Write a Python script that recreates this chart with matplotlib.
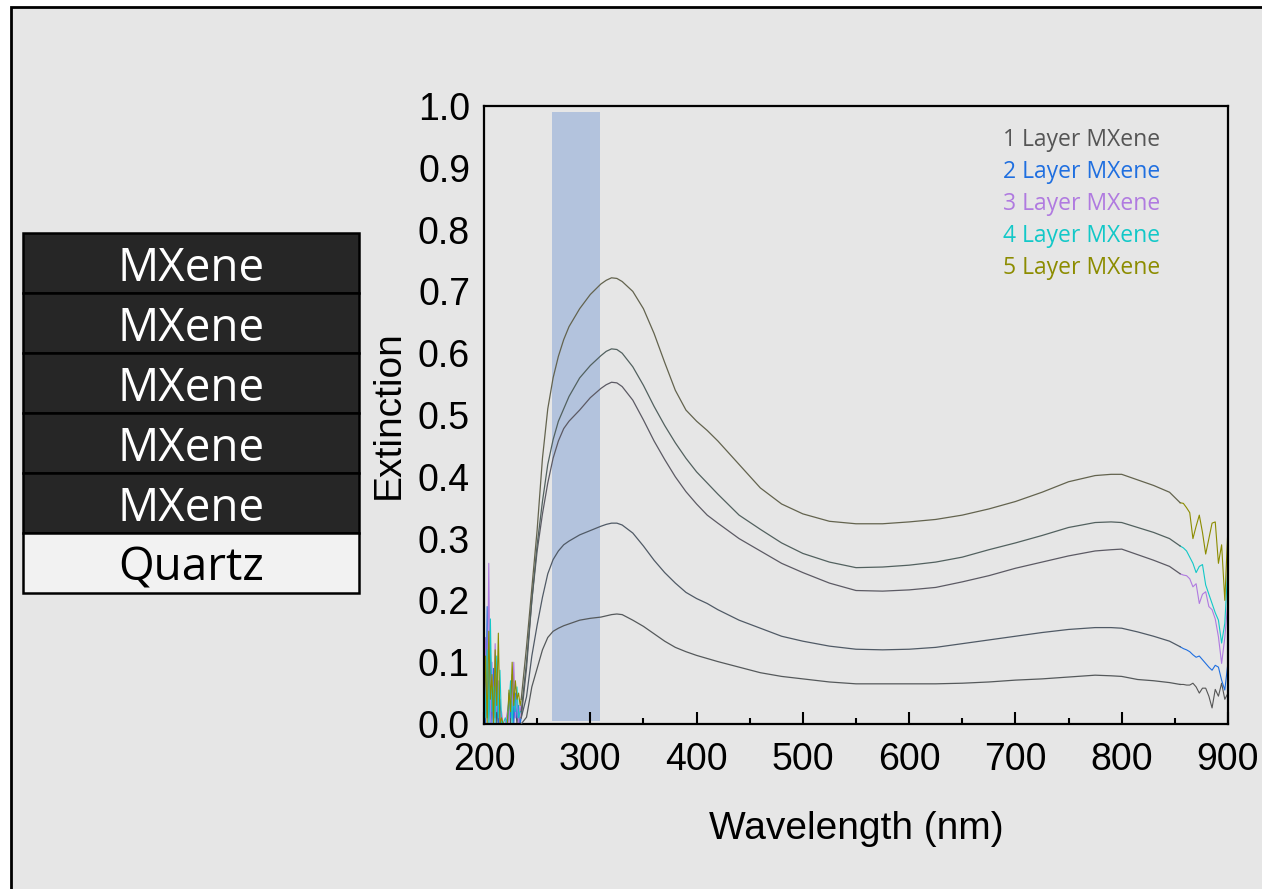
import matplotlib
matplotlib.use("Agg")
import matplotlib.pyplot as plt
from matplotlib.patches import Rectangle
import numpy as np

# ---- data ----
series_labels = ["1 Layer MXene", "2 Layer MXene", "3 Layer MXene",
                 "4 Layer MXene", "5 Layer MXene"]

# smooth part of the spectra (nm)
wl_main = [235, 240, 245, 250, 255, 260, 265, 270, 275, 280,
           290, 300, 310, 315, 320, 325, 330, 340, 350, 360,
           370, 380, 390, 400, 410, 420, 440, 460, 480, 500,
           525, 550, 575, 600, 625, 650, 675, 700, 725, 750,
           775, 790, 800, 815, 830, 845, 855]

ext_1 = [0.0, 0.011, 0.06, 0.09, 0.12, 0.14, 0.15, 0.155, 0.159, 0.162,
         0.168, 0.171, 0.173, 0.175, 0.177, 0.178, 0.177, 0.168, 0.158, 0.146,
         0.134, 0.124, 0.117, 0.111, 0.106, 0.101, 0.092, 0.083, 0.077, 0.073,
         0.068, 0.065, 0.065, 0.065, 0.065, 0.066, 0.068, 0.071, 0.073, 0.076,
         0.079, 0.078, 0.077, 0.072, 0.07, 0.067, 0.064]
ext_2 = [0.01, 0.044, 0.11, 0.16, 0.205, 0.243, 0.266, 0.28, 0.29, 0.296,
         0.306, 0.313, 0.32, 0.323, 0.325, 0.325, 0.322, 0.309, 0.288, 0.265,
         0.245, 0.228, 0.213, 0.203, 0.195, 0.185, 0.168, 0.155, 0.142, 0.134,
         0.126, 0.121, 0.12, 0.121, 0.124, 0.13, 0.136, 0.142, 0.148, 0.153,
         0.156, 0.156, 0.155, 0.149, 0.142, 0.134, 0.125]
ext_3 = [0.01, 0.09, 0.20, 0.28, 0.34, 0.39, 0.43, 0.458, 0.478, 0.49,
         0.508, 0.528, 0.543, 0.549, 0.553, 0.552, 0.546, 0.524, 0.492, 0.458,
         0.428, 0.40, 0.376, 0.356, 0.338, 0.325, 0.30, 0.28, 0.26, 0.245,
         0.228, 0.216, 0.215, 0.217, 0.221, 0.23, 0.24, 0.252, 0.262, 0.272,
         0.28, 0.282, 0.283, 0.274, 0.265, 0.255, 0.243]
ext_4 = [0.02, 0.10, 0.20, 0.29, 0.36, 0.42, 0.46, 0.49, 0.51, 0.53,
         0.56, 0.58, 0.596, 0.603, 0.607, 0.606, 0.60, 0.578, 0.548, 0.514,
         0.483, 0.455, 0.43, 0.408, 0.39, 0.372, 0.338, 0.315, 0.293, 0.276,
         0.262, 0.253, 0.254, 0.257, 0.262, 0.27, 0.282, 0.293, 0.305, 0.318,
         0.326, 0.327, 0.326, 0.318, 0.31, 0.30, 0.288]
ext_5 = [0.04, 0.125, 0.22, 0.314, 0.43, 0.51, 0.56, 0.595, 0.622, 0.643,
         0.672, 0.695, 0.712, 0.718, 0.722, 0.721, 0.716, 0.70, 0.672, 0.632,
         0.585, 0.54, 0.508, 0.49, 0.475, 0.458, 0.42, 0.382, 0.356, 0.34,
         0.328, 0.324, 0.324, 0.327, 0.331, 0.338, 0.348, 0.36, 0.375, 0.392,
         0.402, 0.404, 0.404, 0.395, 0.386, 0.375, 0.358]

# noisy start (detector edge)
wl_left = [200, 201.5, 203, 204.5, 206, 207.5, 209, 210.5, 212, 213.5, 215,
           216.5, 218, 220, 222, 223.5, 225, 226.5, 228, 229.5, 231, 232.5,
           234, 235]
left_1 = [0.02, 0.10, 0.01, 0.07, 0.0, 0.05, 0.02, 0.08, 0.0, 0.03, 0.01, 0.0,
          0.0, 0.0, 0.01, 0.04, 0.0, 0.06, 0.01, 0.03, 0.0, 0.02, 0.0, 0.0]
left_2 = [0.05, 0.0, 0.19, 0.02, 0.12, 0.0, 0.09, 0.01, 0.06, 0.0, 0.04, 0.0,
          0.0, 0.0, 0.0, 0.05, 0.01, 0.08, 0.0, 0.05, 0.01, 0.03, 0.0, 0.01]
left_3 = [0.0, 0.14, 0.03, 0.26, 0.0, 0.10, 0.01, 0.13, 0.02, 0.07, 0.0, 0.02,
          0.0, 0.0, 0.02, 0.0, 0.06, 0.02, 0.10, 0.01, 0.04, 0.0, 0.03, 0.01]
left_4 = [0.08, 0.01, 0.12, 0.0, 0.17, 0.02, 0.06, 0.0, 0.11, 0.01, 0.087, 0.0,
          0.0, 0.01, 0.0, 0.03, 0.07, 0.0, 0.05, 0.02, 0.06, 0.01, 0.02, 0.02]
left_5 = [0.03, 0.11, 0.0, 0.15, 0.04, 0.08, 0.0, 0.12, 0.03, 0.147, 0.0, 0.01,
          0.0, 0.0, 0.0, 0.055, 0.02, 0.10, 0.03, 0.07, 0.04, 0.05, 0.03, 0.04]

# noisy end
wl_right = [855, 858, 861, 864, 867, 870, 873, 876, 879, 882, 885, 888, 891,
            894, 897, 900]
right_1 = [0.064, 0.064, 0.063, 0.063, 0.066, 0.06, 0.05, 0.058, 0.058, 0.045,
           0.026, 0.056, 0.045, 0.066, 0.04, 0.05]
right_2 = [0.125, 0.122, 0.12, 0.117, 0.112, 0.108, 0.11, 0.104, 0.098, 0.092,
           0.087, 0.095, 0.092, 0.071, 0.055, 0.10]
right_3 = [0.243, 0.241, 0.24, 0.235, 0.222, 0.227, 0.195, 0.21, 0.214, 0.19,
           0.185, 0.17, 0.141, 0.098, 0.14, 0.20]
right_4 = [0.288, 0.285, 0.28, 0.27, 0.26, 0.245, 0.255, 0.258, 0.225, 0.21,
           0.195, 0.18, 0.168, 0.131, 0.163, 0.26]
right_5 = [0.358, 0.357, 0.35, 0.342, 0.30, 0.32, 0.338, 0.31, 0.275, 0.30,
           0.325, 0.327, 0.26, 0.29, 0.20, 0.32]

# highlighted band
band_lo, band_hi = 264, 309
band_bottom, band_top = 0.005, 0.99

layer_names = ["MXene", "MXene", "MXene", "MXene", "MXene", "Quartz"]

# ---- style ----
label_colors = ["#555555", "#1f6fe0", "#b07ae0", "#12c8c8", "#8c8c00"]
line_colors = ["#55595b", "#505a66", "#5c5a64", "#52615f", "#63634e"]

plt.rcParams["font.family"] = ["Liberation Sans", "DejaVu Sans"]

fig = plt.figure(figsize=(12.62, 8.89), dpi=100, facecolor="white")

# outer slide frame (behind everything)
fig.patches.append(Rectangle((11 / 1262, -0.1), 1.2, 1.1 - 7 / 889,
                             transform=fig.transFigure, facecolor="#e6e6e6",
                             edgecolor="black", linewidth=2, zorder=-5))

# layer stack sketch
row_h = 60 / 889
stack_top = 1 - 233 / 889
for i, name in enumerate(layer_names):
    y0 = stack_top - (i + 1) * row_h
    dark = name == "MXene"
    fig.patches.append(Rectangle((23 / 1262, y0), 336 / 1262, row_h,
                                 transform=fig.transFigure,
                                 facecolor="#262626" if dark else "#f2f2f2",
                                 edgecolor="black", linewidth=1.8, zorder=1))
    fig.text(191 / 1262, y0 + row_h / 2 - 6 / 889, name, ha="center",
             va="center", fontsize=33, family="Open Sans",
             color="white" if dark else "black", zorder=2)

ax = fig.add_axes([484 / 1262, 165 / 889, 744 / 1262, 618 / 889])
ax.set_zorder(3)
ax.set_facecolor("#e6e6e6")

ax.axvspan(band_lo, band_hi, ymin=band_bottom, ymax=band_top,
           color="#b3c3dd", lw=0, zorder=1)

mains = [ext_1, ext_2, ext_3, ext_4, ext_5]
lefts = [left_1, left_2, left_3, left_4, left_5]
rights = [right_1, right_2, right_3, right_4, right_5]
for k in range(5):
    ax.plot(wl_left, lefts[k], color=label_colors[k], lw=0.8, zorder=2)
    ax.plot(wl_right, rights[k], color=label_colors[k], lw=0.8, zorder=2)
    ax.plot(wl_main, mains[k], color=line_colors[k], lw=0.9, zorder=3,
            solid_joinstyle="round")

for k, lab in enumerate(series_labels):
    ax.text(0.6976, 0.945 - k * 0.0518, lab, transform=ax.transAxes,
            ha="left", va="center", fontsize=16.5, family="Open Sans",
            color=label_colors[k])

ax.set_xlim(200, 900)
ax.set_ylim(0, 1.0)
ax.set_xticks(np.arange(200, 901, 100))
ax.set_xticks(np.arange(250, 900, 100), minor=True)
ax.set_yticks(np.arange(0, 1.01, 0.1))
ax.set_yticklabels([f"{v:.1f}" for v in np.arange(0, 1.01, 0.1)])

ax.tick_params(axis="x", which="major", direction="in", length=9, width=1.5,
               labelsize=27, pad=13)
ax.tick_params(axis="x", which="minor", direction="in", length=4.5, width=1.5)
ax.tick_params(axis="y", which="both", length=0, labelsize=27, pad=10)
for sp in ax.spines.values():
    sp.set_linewidth(1.6)

ax.set_xlabel("Wavelength (nm)", fontsize=28)
ax.set_ylabel("Extinction", fontsize=28)
ax.xaxis.set_label_coords(0.5, -0.14)
ax.yaxis.set_label_coords(-0.104, 0.5)

fig.savefig("out.png", dpi=100, facecolor=fig.get_facecolor())
